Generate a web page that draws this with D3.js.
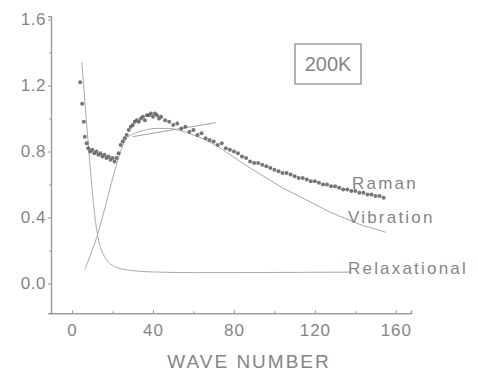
<!DOCTYPE html>
<html>
<head>
<meta charset="utf-8">
<script src="https://cdn.jsdelivr.net/npm/d3@7"></script>
<style>
  html, body { margin: 0; padding: 0; background: #fff; }
  svg { display: block; }
  text { font-family: "Liberation Sans", Arial, sans-serif; fill: #858585; }
</style>
</head>
<body>
<svg id="chart" width="478" height="390"></svg>
<script>
// ---- data ----
const ramanWave = [4,5,5.8,6.3,7.2,8,9,10,11,12,13,14,15,16,17,18,19,20,21,22,23,24,25,26,27,28,29,30,31,32,33,34,35,36,37,38,39,40,41,42,43,44,46,48,50,52,54,56,58,60,62,64,66,68,70,72,74,76,78,80,82,84,86,88,90,92,94,96,98,100,102,104,106,108,110,112,114,116,118,120,122,124,126,128,130,132,134,136,138,140,142,144,146,148,150,152,154];
const ramanValue = [1.22,1.09,0.98,0.89,0.85,0.82,0.80,0.81,0.79,0.80,0.78,0.79,0.77,0.78,0.76,0.77,0.75,0.76,0.74,0.76,0.79,0.84,0.86,0.88,0.90,0.93,0.95,0.96,0.98,0.99,0.98,1.00,1.01,0.99,1.02,1.02,1.03,1.01,1.03,1.02,1.00,1.01,0.99,0.98,0.96,0.97,0.94,0.95,0.92,0.93,0.90,0.91,0.88,0.87,0.86,0.84,0.85,0.82,0.81,0.80,0.79,0.77,0.76,0.74,0.73,0.73,0.72,0.71,0.70,0.69,0.68,0.67,0.67,0.66,0.65,0.64,0.64,0.63,0.62,0.62,0.61,0.60,0.60,0.59,0.59,0.58,0.57,0.57,0.56,0.56,0.55,0.55,0.54,0.54,0.53,0.53,0.52];

const vibWave  = [6.4,9,12.2,15,18,21,24,26,28,31,36,42,48,54,60,66,72,80,88,96,104,112,120,128,136,144,150,155];
const vibValue = [0.085,0.17,0.28,0.40,0.54,0.68,0.80,0.86,0.89,0.91,0.93,0.94,0.94,0.925,0.90,0.87,0.83,0.765,0.70,0.64,0.58,0.53,0.48,0.43,0.39,0.35,0.33,0.31];

const fitWave  = [30, 71];
const fitValue = [0.89, 0.975];

const relaxWave  = [4.8,6,7,8,9,10,11,12,13,14,16,18,20,24,30,40,60,80,100,120,138];
const relaxValue = [1.34,1.16,1.00,0.85,0.70,0.56,0.44,0.34,0.27,0.22,0.165,0.13,0.11,0.09,0.078,0.07,0.066,0.066,0.067,0.068,0.069];

const xTickValues = [0, 40, 80, 120, 160];
const xMinorTicks = [20, 60, 100, 140];
const yTickValues = [0.0, 0.4, 0.8, 1.2, 1.6];
const yMinorTicks = [0.2, 0.6, 1.0, 1.4];

const seriesLabels = ["Raman", "Vibration", "Relaxational"];
const tempLabel = "200K";
const xTitle = "WAVE NUMBER";

// ---- chart ----
const svg = d3.select("#chart");
const x = d3.scaleLinear().domain([-10.4, 167.5]).range([51, 411]);
const y = d3.scaleLinear().domain([-0.18, 1.62]).range([313.2, 16.2]);

const axisColor = "#9a9a9a";

// x axis
const xAxisG = svg.append("g").attr("transform", `translate(0,${y(-0.18)})`);
xAxisG.call(d3.axisBottom(x).tickValues(xTickValues).tickSize(-3).tickPadding(11).tickFormat(d3.format("d")));
xAxisG.append("g").call(d3.axisBottom(x).tickValues(xMinorTicks).tickSize(-2).tickFormat(""));
xAxisG.selectAll(".domain").attr("stroke", axisColor).attr("stroke-width", 1.2);
xAxisG.selectAll(".tick line").attr("stroke", axisColor);
xAxisG.selectAll(".tick text").attr("font-size", 17).attr("fill", "#8a8a8a")
  .attr("letter-spacing", 1).attr("font-family", "Liberation Sans, Arial, sans-serif");

// y axis
const yAxisG = svg.append("g").attr("transform", `translate(${x(-10.4)},0)`);
yAxisG.call(d3.axisLeft(y).tickValues(yTickValues).tickSize(3).tickPadding(2).tickFormat(d3.format(".1f")));
yAxisG.append("g").call(d3.axisLeft(y).tickValues(yMinorTicks).tickSize(2).tickFormat(""));
yAxisG.selectAll(".domain").attr("stroke", axisColor).attr("stroke-width", 1.2);
yAxisG.selectAll(".tick line").attr("stroke", axisColor);
yAxisG.selectAll(".tick text").attr("font-size", 17).attr("fill", "#8a8a8a")
  .attr("letter-spacing", 0.5).attr("font-family", "Liberation Sans, Arial, sans-serif");

// lines
const line = d3.line().x(d => x(d[0])).y(d => y(d[1])).curve(d3.curveMonotoneX);
const relax = relaxWave.map((w, i) => [w, relaxValue[i]]);
const vib = vibWave.map((w, i) => [w, vibValue[i]]);
const fit = fitWave.map((w, i) => [w, fitValue[i]]);

svg.append("path").attr("d", line(relax)).attr("fill", "none")
  .attr("stroke", "#a8a8a8").attr("stroke-width", 1);
svg.append("path").attr("d", line(vib)).attr("fill", "none")
  .attr("stroke", "#a8a8a8").attr("stroke-width", 1);
svg.append("path").attr("d", d3.line().x(d => x(d[0])).y(d => y(d[1]))(fit)).attr("fill", "none")
  .attr("stroke", "#a0a0a0").attr("stroke-width", 1);

// raman points
const raman = ramanWave.map((w, i) => [w, ramanValue[i]]);
svg.append("g").selectAll("circle").data(raman).join("circle")
  .attr("cx", d => x(d[0])).attr("cy", d => y(d[1])).attr("r", 2)
  .attr("fill", "#5e5e5e").attr("fill-opacity", 0.85);

// series labels
const labelPos = [
  { t: seriesLabels[0], x: 352, y: 189 },
  { t: seriesLabels[1], x: 348, y: 223 },
  { t: seriesLabels[2], x: 348, y: 274 }
];
svg.append("g").selectAll("text").data(labelPos).join("text")
  .attr("x", d => d.x).attr("y", d => d.y).text(d => d.t)
  .attr("font-size", 17).attr("letter-spacing", 2.2).attr("fill", "#8a8a8a");

// 200K box
svg.append("rect").attr("x", 295).attr("y", 44).attr("width", 66).attr("height", 40)
  .attr("fill", "none").attr("stroke", "#8a8a8a").attr("stroke-width", 1.3);
svg.append("text").attr("x", 328).attr("y", 71).attr("text-anchor", "middle")
  .attr("font-family", "Liberation Serif, Times New Roman, serif").attr("font-size", 20)
  .attr("fill", "#7a7a7a").text(tempLabel);

// x title
svg.append("text").attr("x", 249).attr("y", 368).attr("text-anchor", "middle")
  .attr("font-size", 19).attr("letter-spacing", 2).attr("fill", "#8a8a8a").text(xTitle);
</script>
</body>
</html>
